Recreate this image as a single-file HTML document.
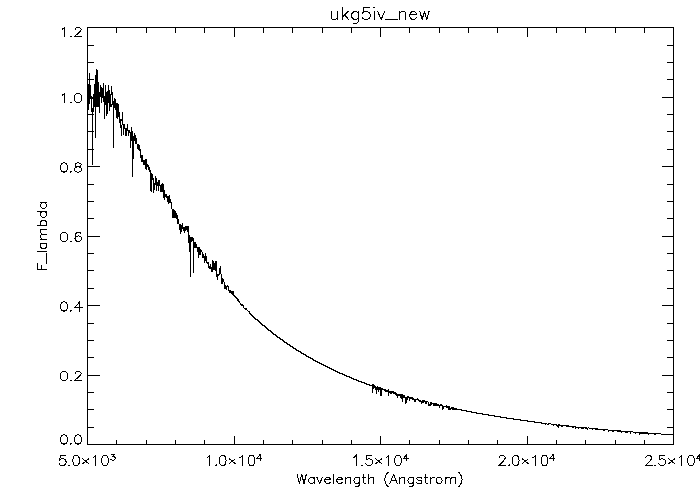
<!DOCTYPE html>
<html><head><meta charset="utf-8"><title>ukg5iv_new</title>
<style>html,body{margin:0;padding:0;background:#fff;width:700px;height:500px;overflow:hidden}svg{display:block}</style>
</head><body>
<svg width="700" height="500" viewBox="0 0 700 500">
<rect width="700" height="500" fill="#fff"/>
<g fill="none" stroke="#000" stroke-width="1" shape-rendering="crispEdges">
<rect x="87.5" y="27.5" width="586" height="417" fill="none"/>
<path d="M87.5 444.5V435.5M87.5 27.5V36.5M116.5 444.5V439.5M116.5 27.5V32.5M146.5 444.5V439.5M146.5 27.5V32.5M175.5 444.5V439.5M175.5 27.5V32.5M204.5 444.5V439.5M204.5 27.5V32.5M234.5 444.5V435.5M234.5 27.5V36.5M263.5 444.5V439.5M263.5 27.5V32.5M292.5 444.5V439.5M292.5 27.5V32.5M322.5 444.5V439.5M322.5 27.5V32.5M351.5 444.5V439.5M351.5 27.5V32.5M380.5 444.5V435.5M380.5 27.5V36.5M409.5 444.5V439.5M409.5 27.5V32.5M439.5 444.5V439.5M439.5 27.5V32.5M468.5 444.5V439.5M468.5 27.5V32.5M497.5 444.5V439.5M497.5 27.5V32.5M527.5 444.5V435.5M527.5 27.5V36.5M556.5 444.5V439.5M556.5 27.5V32.5M585.5 444.5V439.5M585.5 27.5V32.5M615.5 444.5V439.5M615.5 27.5V32.5M644.5 444.5V439.5M644.5 27.5V32.5M673.5 444.5V435.5M673.5 27.5V36.5M87.5 444.5H99.5M673.5 444.5H661.5M87.5 427.5H93.5M673.5 427.5H666.5M87.5 409.5H93.5M673.5 409.5H666.5M87.5 392.5H93.5M673.5 392.5H666.5M87.5 375.5H99.5M673.5 375.5H661.5M87.5 357.5H93.5M673.5 357.5H666.5M87.5 340.5H93.5M673.5 340.5H666.5M87.5 323.5H93.5M673.5 323.5H666.5M87.5 305.5H99.5M673.5 305.5H661.5M87.5 288.5H93.5M673.5 288.5H666.5M87.5 270.5H93.5M673.5 270.5H666.5M87.5 253.5H93.5M673.5 253.5H666.5M87.5 236.5H99.5M673.5 236.5H661.5M87.5 218.5H93.5M673.5 218.5H666.5M87.5 201.5H93.5M673.5 201.5H666.5M87.5 184.5H93.5M673.5 184.5H666.5M87.5 166.5H99.5M673.5 166.5H661.5M87.5 149.5H93.5M673.5 149.5H666.5M87.5 131.5H93.5M673.5 131.5H666.5M87.5 114.5H93.5M673.5 114.5H666.5M87.5 97.5H99.5M673.5 97.5H661.5M87.5 79.5H93.5M673.5 79.5H666.5M87.5 62.5H93.5M673.5 62.5H666.5M87.5 45.5H93.5M673.5 45.5H666.5M87.5 27.5H99.5M673.5 27.5H661.5"/>
</g>
<g fill="none" stroke="#000" stroke-width="1" stroke-linecap="square" stroke-linejoin="miter" shape-rendering="crispEdges">
<path d="M65.11 455.50L60.31 455.50L59.83 459.79L60.31 459.31L61.75 458.84L63.19 458.84L64.63 459.31L65.59 460.26L66.07 461.69L66.07 462.64L65.59 464.07L64.63 465.02L63.19 465.50L61.75 465.50L60.31 465.02L59.83 464.55L59.35 463.60M69.91 465.02L68.95 465.50M75.67 455.50L74.23 455.98L73.27 457.41L72.79 459.79L72.79 461.22L73.27 463.60L74.23 465.02L75.67 465.50L76.63 465.50L78.07 465.02L79.03 463.60L79.51 461.22L79.51 459.79L79.03 457.41L78.07 455.98L76.63 455.50L75.67 455.50M82.87 458.84L88.63 463.60M88.63 458.84L82.87 463.60M93.43 457.41L94.39 456.93L95.83 455.50L95.83 465.50M104.47 455.50L103.03 455.98L102.07 457.41L101.59 459.79L101.59 461.22L102.07 463.60L103.03 465.02L104.47 465.50L105.43 465.50L106.87 465.02L107.83 463.60L108.31 461.22L108.31 459.79L107.83 457.41L106.87 455.98L105.43 455.50L104.47 455.50M111.34 454.20L114.82 454.20L112.92 456.49L113.87 456.49L114.50 456.77L114.82 457.06L115.14 457.92L115.14 458.49L114.82 459.34L114.19 459.91L113.24 460.20L112.29 460.20L111.34 459.91L111.02 459.63L110.70 459.06M207.29 457.41L208.25 456.93L209.69 455.50L209.69 465.50M216.41 465.02L215.45 465.50M222.17 455.50L220.73 455.98L219.77 457.41L219.29 459.79L219.29 461.22L219.77 463.60L220.73 465.02L222.17 465.50L223.13 465.50L224.57 465.02L225.53 463.60L226.01 461.22L226.01 459.79L225.53 457.41L224.57 455.98L223.13 455.50L222.17 455.50M229.37 458.84L235.13 463.60M235.13 458.84L229.37 463.60M239.93 457.41L240.89 456.93L242.33 455.50L242.33 465.50M250.97 455.50L249.53 455.98L248.57 457.41L248.09 459.79L248.09 461.22L248.57 463.60L249.53 465.02L250.97 465.50L251.93 465.50L253.37 465.02L254.33 463.60L254.81 461.22L254.81 459.79L254.33 457.41L253.37 455.98L251.93 455.50L250.97 455.50M260.37 454.20L257.20 458.20L261.95 458.20M260.37 454.20L260.37 460.20M353.79 457.41L354.75 456.93L356.19 455.50L356.19 465.50M362.91 465.02L361.95 465.50M371.55 455.50L366.75 455.50L366.27 459.79L366.75 459.31L368.19 458.84L369.63 458.84L371.07 459.31L372.03 460.26L372.51 461.69L372.51 462.64L372.03 464.07L371.07 465.02L369.63 465.50L368.19 465.50L366.75 465.02L366.27 464.55L365.79 463.60M375.87 458.84L381.63 463.60M381.63 458.84L375.87 463.60M386.43 457.41L387.39 456.93L388.83 455.50L388.83 465.50M397.47 455.50L396.03 455.98L395.07 457.41L394.59 459.79L394.59 461.22L395.07 463.60L396.03 465.02L397.47 465.50L398.43 465.50L399.87 465.02L400.83 463.60L401.31 461.22L401.31 459.79L400.83 457.41L399.87 455.98L398.43 455.50L397.47 455.50M406.87 454.20L403.70 458.20L408.45 458.20M406.87 454.20L406.87 460.20M499.33 457.88L499.33 457.41L499.81 456.46L500.29 455.98L501.25 455.50L503.17 455.50L504.13 455.98L504.61 456.46L505.09 457.41L505.09 458.36L504.61 459.31L503.65 460.74L498.85 465.50L505.57 465.50M509.41 465.02L508.45 465.50M515.17 455.50L513.73 455.98L512.77 457.41L512.29 459.79L512.29 461.22L512.77 463.60L513.73 465.02L515.17 465.50L516.13 465.50L517.57 465.02L518.53 463.60L519.01 461.22L519.01 459.79L518.53 457.41L517.57 455.98L516.13 455.50L515.17 455.50M522.37 458.84L528.13 463.60M528.13 458.84L522.37 463.60M532.93 457.41L533.89 456.93L535.33 455.50L535.33 465.50M543.97 455.50L542.53 455.98L541.57 457.41L541.09 459.79L541.09 461.22L541.57 463.60L542.53 465.02L543.97 465.50L544.93 465.50L546.37 465.02L547.33 463.60L547.81 461.22L547.81 459.79L547.33 457.41L546.37 455.98L544.93 455.50L543.97 455.50M553.37 454.20L550.20 458.20L554.95 458.20M553.37 454.20L553.37 460.20M645.83 457.88L645.83 457.41L646.31 456.46L646.79 455.98L647.75 455.50L649.67 455.50L650.63 455.98L651.11 456.46L651.59 457.41L651.59 458.36L651.11 459.31L650.15 460.74L645.35 465.50L652.07 465.50M655.91 465.02L654.95 465.50M664.55 455.50L659.75 455.50L659.27 459.79L659.75 459.31L661.19 458.84L662.63 458.84L664.07 459.31L665.03 460.26L665.51 461.69L665.51 462.64L665.03 464.07L664.07 465.02L662.63 465.50L661.19 465.50L659.75 465.02L659.27 464.55L658.79 463.60M668.87 458.84L674.63 463.60M674.63 458.84L668.87 463.60M679.43 457.41L680.39 456.93L681.83 455.50L681.83 465.50M690.47 455.50L689.03 455.98L688.07 457.41L687.59 459.79L687.59 461.22L688.07 463.60L689.03 465.02L690.47 465.50L691.43 465.50L692.87 465.02L693.83 463.60L694.31 461.22L694.31 459.79L693.83 457.41L692.87 455.98L691.43 455.50L690.47 455.50M699.87 454.20L696.70 458.20L701.45 458.20M699.87 454.20L699.87 460.20M63.50 434.97L62.00 435.40L61.00 436.69L60.50 438.84L60.50 440.13L61.00 442.28L62.00 443.57L63.50 444.00L64.50 444.00L66.00 443.57L67.00 442.28L67.50 440.13L67.50 438.84L67.00 436.69L66.00 435.40L64.50 434.97L63.50 434.97M71.50 443.57L70.50 444.00M77.50 434.97L76.00 435.40L75.00 436.69L74.50 438.84L74.50 440.13L75.00 442.28L76.00 443.57L77.50 444.00L78.50 444.00L80.00 443.57L81.00 442.28L81.50 440.13L81.50 438.84L81.00 436.69L80.00 435.40L78.50 434.97L77.50 434.97M63.50 371.47L62.00 371.90L61.00 373.19L60.50 375.34L60.50 376.63L61.00 378.78L62.00 380.07L63.50 380.50L64.50 380.50L66.00 380.07L67.00 378.78L67.50 376.63L67.50 375.34L67.00 373.19L66.00 371.90L64.50 371.47L63.50 371.47M71.50 380.07L70.50 380.50M75.00 373.62L75.00 373.19L75.50 372.33L76.00 371.90L77.00 371.47L79.00 371.47L80.00 371.90L80.50 372.33L81.00 373.19L81.00 374.05L80.50 374.91L79.50 376.20L74.50 380.50L81.50 380.50M63.50 301.97L62.00 302.40L61.00 303.69L60.50 305.84L60.50 307.13L61.00 309.28L62.00 310.57L63.50 311.00L64.50 311.00L66.00 310.57L67.00 309.28L67.50 307.13L67.50 305.84L67.00 303.69L66.00 302.40L64.50 301.97L63.50 301.97M71.50 310.57L70.50 311.00M79.50 301.97L74.50 307.99L82.00 307.99M79.50 301.97L79.50 311.00M63.50 232.47L62.00 232.90L61.00 234.19L60.50 236.34L60.50 237.63L61.00 239.78L62.00 241.07L63.50 241.50L64.50 241.50L66.00 241.07L67.00 239.78L67.50 237.63L67.50 236.34L67.00 234.19L66.00 232.90L64.50 232.47L63.50 232.47M71.50 241.07L70.50 241.50M81.00 233.76L80.50 232.90L79.00 232.47L78.00 232.47L76.50 232.90L75.50 234.19L75.00 236.34L75.00 238.49L75.50 240.21L76.50 241.07L78.00 241.50L78.50 241.50L80.00 241.07L81.00 240.21L81.50 238.92L81.50 238.49L81.00 237.20L80.00 236.34L78.50 235.91L78.00 235.91L76.50 236.34L75.50 237.20L75.00 238.49M63.50 162.97L62.00 163.40L61.00 164.69L60.50 166.84L60.50 168.13L61.00 170.28L62.00 171.57L63.50 172.00L64.50 172.00L66.00 171.57L67.00 170.28L67.50 168.13L67.50 166.84L67.00 164.69L66.00 163.40L64.50 162.97L63.50 162.97M71.50 171.57L70.50 172.00M77.00 162.97L75.50 163.40L75.00 164.26L75.00 165.12L75.50 165.98L76.50 166.41L78.50 166.84L80.00 167.27L81.00 168.13L81.50 168.99L81.50 170.28L81.00 171.14L80.50 171.57L79.00 172.00L77.00 172.00L75.50 171.57L75.00 171.14L74.50 170.28L74.50 168.99L75.00 168.13L76.00 167.27L77.50 166.84L79.50 166.41L80.50 165.98L81.00 165.12L81.00 164.26L80.50 163.40L79.00 162.97L77.00 162.97M62.00 95.19L63.00 94.76L64.50 93.47L64.50 102.50M71.50 102.07L70.50 102.50M77.50 93.47L76.00 93.90L75.00 95.19L74.50 97.34L74.50 98.63L75.00 100.78L76.00 102.07L77.50 102.50L78.50 102.50L80.00 102.07L81.00 100.78L81.50 98.63L81.50 97.34L81.00 95.19L80.00 93.90L78.50 93.47L77.50 93.47M62.00 29.19L63.00 28.76L64.50 27.47L64.50 36.50M71.50 36.07L70.50 36.50M75.00 29.62L75.00 29.19L75.50 28.33L76.00 27.90L77.00 27.47L79.00 27.47L80.00 27.90L80.50 28.33L81.00 29.19L81.00 30.05L80.50 30.91L79.50 32.20L74.50 36.50L81.50 36.50M331.55 11.52L331.55 17.22L332.12 18.93L333.26 19.50L334.97 19.50L336.11 18.93L337.82 17.22M337.82 11.52L337.82 19.50M342.38 7.53L342.38 19.50M348.08 11.52L342.38 17.22M344.66 14.94L348.65 19.50M358.34 11.52L358.34 20.64L357.77 22.35L357.20 22.92L356.06 23.49L354.35 23.49L353.21 22.92M358.34 13.23L357.20 12.09L356.06 11.52L354.35 11.52L353.21 12.09L352.07 13.23L351.50 14.94L351.50 16.08L352.07 17.79L353.21 18.93L354.35 19.50L356.06 19.50L357.20 18.93L358.34 17.79M369.17 7.53L363.47 7.53L362.90 12.66L363.47 12.09L365.18 11.52L366.89 11.52L368.60 12.09L369.74 13.23L370.31 14.94L370.31 16.08L369.74 17.79L368.60 18.93L366.89 19.50L365.18 19.50L363.47 18.93L362.90 18.36L362.33 17.22M373.73 7.53L374.87 8.10M374.30 11.52L374.30 19.50M377.72 11.52L381.14 19.50M384.56 11.52L381.14 19.50M385.70 19.50L397.10 19.50M399.38 11.52L399.38 19.50M399.38 13.80L401.09 12.09L402.23 11.52L403.94 11.52L405.08 12.09L405.65 13.80L405.65 19.50M409.64 14.94L416.48 14.94L416.48 13.80L415.91 12.66L415.34 12.09L414.20 11.52L412.49 11.52L411.35 12.09L410.21 13.23L409.64 14.94L409.64 16.08L410.21 17.79L411.35 18.93L412.49 19.50L414.20 19.50L415.34 18.93L416.48 17.79M419.90 11.52L422.18 19.50M424.46 11.52L422.18 19.50M424.46 11.52L426.74 19.50M429.02 11.52L426.74 19.50M297.07 474.26L299.38 483.50M301.69 474.26L299.38 483.50M301.69 474.26L304.00 483.50M306.31 474.26L304.00 483.50M314.17 477.34L314.17 483.50M314.17 478.66L313.24 477.78L312.32 477.34L310.93 477.34L310.01 477.78L309.08 478.66L308.62 479.98L308.62 480.86L309.08 482.18L310.01 483.06L310.93 483.50L312.32 483.50L313.24 483.06L314.17 482.18M316.94 477.34L319.71 483.50M322.48 477.34L319.71 483.50M324.79 479.98L330.34 479.98L330.34 479.10L329.87 478.22L329.41 477.78L328.49 477.34L327.10 477.34L326.18 477.78L325.25 478.66L324.79 479.98L324.79 480.86L325.25 482.18L326.18 483.06L327.10 483.50L328.49 483.50L329.41 483.06L330.34 482.18M333.57 474.26L333.57 483.50M336.80 479.98L342.35 479.98L342.35 479.10L341.89 478.22L341.42 477.78L340.50 477.34L339.11 477.34L338.19 477.78L337.27 478.66L336.80 479.98L336.80 480.86L337.27 482.18L338.19 483.06L339.11 483.50L340.50 483.50L341.42 483.06L342.35 482.18M345.58 477.34L345.58 483.50M345.58 479.10L346.97 477.78L347.89 477.34L349.28 477.34L350.20 477.78L350.66 479.10L350.66 483.50M359.44 477.34L359.44 484.38L358.98 485.70L358.52 486.14L357.59 486.58L356.21 486.58L355.28 486.14M359.44 478.66L358.52 477.78L357.59 477.34L356.21 477.34L355.28 477.78L354.36 478.66L353.90 479.98L353.90 480.86L354.36 482.18L355.28 483.06L356.21 483.50L357.59 483.50L358.52 483.06L359.44 482.18M363.60 474.26L363.60 481.74L364.06 483.06L364.99 483.50L365.91 483.50M362.21 477.34L365.45 477.34M368.68 474.26L368.68 483.50M368.68 479.10L370.07 477.78L370.99 477.34L372.38 477.34L373.30 477.78L373.76 479.10L373.76 483.50M388.09 472.50L387.16 473.38L386.24 474.70L385.31 476.46L384.85 478.66L384.85 480.42L385.31 482.62L386.24 484.38L387.16 485.70L388.09 486.58M393.63 474.26L389.93 483.50M393.63 474.26L397.33 483.50M391.32 480.42L395.94 480.42M399.64 477.34L399.64 483.50M399.64 479.10L401.02 477.78L401.95 477.34L403.33 477.34L404.26 477.78L404.72 479.10L404.72 483.50M413.50 477.34L413.50 484.38L413.03 485.70L412.57 486.14L411.65 486.58L410.26 486.58L409.34 486.14M413.50 478.66L412.57 477.78L411.65 477.34L410.26 477.34L409.34 477.78L408.41 478.66L407.95 479.98L407.95 480.86L408.41 482.18L409.34 483.06L410.26 483.50L411.65 483.50L412.57 483.06L413.50 482.18M421.81 478.66L421.35 477.78L419.96 477.34L418.58 477.34L417.19 477.78L416.73 478.66L417.19 479.54L418.12 479.98L420.43 480.42L421.35 480.86L421.81 481.74L421.81 482.18L421.35 483.06L419.96 483.50L418.58 483.50L417.19 483.06L416.73 482.18M425.51 474.26L425.51 481.74L425.97 483.06L426.89 483.50L427.82 483.50M424.12 477.34L427.36 477.34M430.59 477.34L430.59 483.50M430.59 479.98L431.05 478.66L431.98 477.78L432.90 477.34L434.29 477.34M438.44 477.34L437.52 477.78L436.60 478.66L436.13 479.98L436.13 480.86L436.60 482.18L437.52 483.06L438.44 483.50L439.83 483.50L440.75 483.06L441.68 482.18L442.14 480.86L442.14 479.98L441.68 478.66L440.75 477.78L439.83 477.34L438.44 477.34M445.37 477.34L445.37 483.50M445.37 479.10L446.76 477.78L447.68 477.34L449.07 477.34L449.99 477.78L450.46 479.10L450.46 483.50M450.46 479.10L451.84 477.78L452.77 477.34L454.15 477.34L455.08 477.78L455.54 479.10L455.54 483.50M458.77 472.50L459.70 473.38L460.62 474.70L461.54 476.46L462.01 478.66L462.01 480.42L461.54 482.62L460.62 484.38L459.70 485.70L458.77 486.58"/>
<path d="M37.47 269.51L46.50 269.51M37.47 269.51L37.47 263.51M41.77 269.51L41.77 265.82M46.50 263.05L46.50 253.81M37.47 251.96L46.50 251.96M40.48 243.18L46.50 243.18M41.77 243.18L40.91 244.10L40.48 245.03L40.48 246.41L40.91 247.34L41.77 248.26L43.06 248.72L43.92 248.72L45.21 248.26L46.07 247.34L46.50 246.41L46.50 245.03L46.07 244.10L45.21 243.18M40.48 239.48L46.50 239.48M42.20 239.48L40.91 238.10L40.48 237.17L40.48 235.79L40.91 234.86L42.20 234.40L46.50 234.40M42.20 234.40L40.91 233.02L40.48 232.09L40.48 230.71L40.91 229.78L42.20 229.32L46.50 229.32M37.47 225.62L46.50 225.62M41.77 225.62L40.91 224.70L40.48 223.78L40.48 222.39L40.91 221.47L41.77 220.54L43.06 220.08L43.92 220.08L45.21 220.54L46.07 221.47L46.50 222.39L46.50 223.78L46.07 224.70L45.21 225.62M37.47 211.76L46.50 211.76M41.77 211.76L40.91 212.69L40.48 213.61L40.48 215.00L40.91 215.92L41.77 216.85L43.06 217.31L43.92 217.31L45.21 216.85L46.07 215.92L46.50 215.00L46.50 213.61L46.07 212.69L45.21 211.76M40.48 202.99L46.50 202.99M41.77 202.99L40.91 203.91L40.48 204.83L40.48 206.22L40.91 207.14L41.77 208.07L43.06 208.53L43.92 208.53L45.21 208.07L46.07 207.14L46.50 206.22L46.50 204.83L46.07 203.91L45.21 202.99"/>
</g>
<path d="M88 84h1V110h-1ZM89 73h1V104h-1ZM90 85h1V99h-1ZM91 96h1V112h-1ZM92 97h1V99h-1ZM93 94h1V112h-1ZM94 84h1V107h-1ZM95 75h1V138h-1ZM96 69h1V107h-1ZM97 70h1V107h-1ZM98 82h1V107h-1ZM99 92h1V113h-1ZM100 85h1V97h-1ZM101 87h1V103h-1ZM102 88h1V98h-1ZM103 83h1V102h-1ZM104 96h1V119h-1ZM105 85h1V105h-1ZM106 92h1V116h-1ZM107 91h1V114h-1ZM108 85h1V103h-1ZM109 90h1V111h-1ZM110 94h1V107h-1ZM111 86h1V95h-1ZM112 92h1V105h-1ZM113 101h1V148h-1ZM114 98h1V108h-1ZM115 99h1V110h-1ZM116 103h1V118h-1ZM117 103h1V119h-1ZM118 104h1V117h-1ZM119 112h1V123h-1ZM120 119h1V128h-1ZM121 119h1V121h-1ZM122 112h1V125h-1ZM123 124h1V135h-1ZM124 124h1V129h-1ZM125 128h1V136h-1ZM126 128h1V136h-1ZM127 124h1V131h-1ZM128 130h1V136h-1ZM129 130h1V133h-1ZM130 132h1V148h-1ZM131 127h1V141h-1ZM132 131h1V177h-1ZM133 136h1V159h-1ZM134 133h1V141h-1ZM135 135h1V144h-1ZM136 138h1V144h-1ZM137 144h1V149h-1ZM138 144h1V150h-1ZM139 145h1V151h-1ZM140 149h1V158h-1ZM141 155h1V162h-1ZM142 155h1V162h-1ZM143 160h1V165h-1ZM144 160h1V165h-1ZM145 159h1V169h-1ZM146 159h1V170h-1ZM147 164h1V167h-1ZM148 165h1V170h-1ZM149 167h1V172h-1ZM150 170h1V191h-1ZM151 173h1V192h-1ZM152 174h1V180h-1ZM153 178h1V193h-1ZM154 183h1V190h-1ZM155 176h1V185h-1ZM156 178h1V191h-1ZM157 182h1V186h-1ZM158 180h1V191h-1ZM159 180h1V186h-1ZM160 185h1V192h-1ZM161 184h1V192h-1ZM162 183h1V192h-1ZM163 184h1V198h-1ZM164 190h1V200h-1ZM165 194h1V197h-1ZM166 194h1V198h-1ZM167 196h1V202h-1ZM168 196h1V204h-1ZM169 195h1V203h-1ZM170 199h1V203h-1ZM171 202h1V209h-1ZM172 209h1V218h-1ZM173 209h1V218h-1ZM174 210h1V218h-1ZM175 211h1V218h-1ZM176 213h1V219h-1ZM177 215h1V224h-1ZM178 219h1V224h-1ZM179 224h1V230h-1ZM180 224h1V234h-1ZM181 225h1V232h-1ZM182 223h1V229h-1ZM183 227h1V231h-1ZM184 227h1V233h-1ZM185 226h1V231h-1ZM186 226h1V230h-1ZM187 226h1V232h-1ZM188 226h1V243h-1ZM189 235h1V252h-1ZM190 237h1V277h-1ZM191 237h1V242h-1ZM192 237h1V241h-1ZM193 238h1V273h-1ZM194 242h1V248h-1ZM195 242h1V248h-1ZM196 244h1V248h-1ZM197 247h1V252h-1ZM198 247h1V258h-1ZM199 247h1V255h-1ZM200 249h1V255h-1ZM201 250h1V252h-1ZM202 252h1V258h-1ZM203 254h1V258h-1ZM204 256h1V263h-1ZM205 253h1V261h-1ZM206 256h1V263h-1ZM207 262h1V264h-1ZM208 262h1V268h-1ZM209 266h1V269h-1ZM210 264h1V269h-1ZM211 267h1V272h-1ZM212 260h1V272h-1ZM213 261h1V270h-1ZM214 263h1V270h-1ZM215 261h1V271h-1ZM216 261h1V277h-1ZM217 274h1V280h-1ZM218 274h1V276h-1ZM219 268h1V275h-1ZM220 266h1V274h-1ZM221 274h1V284h-1ZM222 278h1V284h-1ZM223 279h1V282h-1ZM224 282h1V289h-1ZM225 285h1V289h-1ZM226 286h1V290h-1ZM227 285h1V287h-1ZM228 286h1V291h-1ZM229 290h1V293h-1ZM230 290h1V293h-1ZM231 291h1V294h-1ZM232 291h1V295h-1ZM233 291h1V296h-1ZM234 295h1V297h-1ZM235 296h1V298h-1ZM236 297h1V299h-1ZM237 298h1V301h-1ZM238 299h1V302h-1ZM239 301h1V303h-1ZM240 303h1V305h-1ZM241 304h1V306h-1ZM242 304h1V306h-1ZM243 305h1V308h-1ZM244 308h1V309h-1ZM245 308h1V310h-1ZM246 308h1V310h-1ZM247 310h1V311h-1ZM248 311h1V312h-1ZM249 311h1V314h-1ZM250 313h1V315h-1ZM251 314h1V316h-1ZM252 315h1V317h-1ZM253 316h1V318h-1ZM254 317h1V319h-1ZM255 318h1V320h-1ZM256 319h1V320h-1ZM257 319h1V321h-1ZM258 320h1V322h-1ZM259 321h1V323h-1ZM260 322h1V324h-1ZM261 323h1V325h-1ZM262 324h1V326h-1ZM263 325h1V326h-1ZM264 325h1V327h-1ZM265 326h1V328h-1ZM266 327h1V329h-1ZM267 328h1V330h-1ZM268 329h1V331h-1ZM269 330h1V331h-1ZM270 330h1V332h-1ZM271 331h1V333h-1ZM272 332h1V334h-1ZM273 333h1V335h-1ZM274 334h1V335h-1ZM275 334h1V336h-1ZM276 335h1V337h-1ZM277 336h1V338h-1ZM278 337h1V338h-1ZM279 337h1V339h-1ZM280 338h1V340h-1ZM281 339h1V340h-1ZM282 339h1V341h-1ZM283 340h1V342h-1ZM284 341h1V343h-1ZM285 342h1V343h-1ZM286 342h1V344h-1ZM287 343h1V345h-1ZM288 344h1V345h-1ZM289 344h1V346h-1ZM290 345h1V347h-1ZM291 346h1V347h-1ZM292 346h1V348h-1ZM293 347h1V349h-1ZM294 348h1V349h-1ZM295 348h1V350h-1ZM296 349h1V351h-1ZM297 350h1V351h-1ZM298 350h1V352h-1ZM299 351h1V352h-1ZM300 351h1V353h-1ZM301 352h1V354h-1ZM302 353h1V354h-1ZM303 353h1V355h-1ZM304 354h1V355h-1ZM305 354h1V356h-1ZM306 355h1V357h-1ZM307 356h1V357h-1ZM308 356h1V358h-1ZM309 357h1V358h-1ZM310 357h1V359h-1ZM311 358h1V359h-1ZM312 358h1V360h-1ZM313 359h1V361h-1ZM314 360h1V361h-1ZM315 360h1V362h-1ZM316 361h1V362h-1ZM317 361h1V363h-1ZM318 362h1V363h-1ZM319 362h1V364h-1ZM320 363h1V364h-1ZM321 363h1V365h-1ZM322 364h1V365h-1ZM323 364h1V366h-1ZM324 365h1V366h-1ZM325 365h1V367h-1ZM326 366h1V367h-1ZM327 366h1V368h-1ZM328 367h1V368h-1ZM329 367h1V369h-1ZM330 368h1V369h-1ZM331 368h1V370h-1ZM332 369h1V370h-1ZM333 369h1V371h-1ZM334 370h1V371h-1ZM335 370h1V372h-1ZM336 371h1V372h-1ZM337 371h1V373h-1ZM338 372h1V373h-1ZM339 372h1V374h-1ZM340 373h1V374h-1ZM341 373h1V374h-1ZM342 373h1V375h-1ZM343 374h1V375h-1ZM344 374h1V376h-1ZM345 375h1V376h-1ZM346 375h1V377h-1ZM347 376h1V377h-1ZM348 376h1V377h-1ZM349 376h1V378h-1ZM350 377h1V378h-1ZM351 377h1V379h-1ZM352 378h1V379h-1ZM353 378h1V380h-1ZM354 379h1V380h-1ZM355 379h1V380h-1ZM356 379h1V381h-1ZM357 380h1V381h-1ZM358 380h1V382h-1ZM359 381h1V382h-1ZM360 381h1V382h-1ZM361 381h1V383h-1ZM362 382h1V383h-1ZM363 382h1V383h-1ZM364 382h1V384h-1ZM365 383h1V384h-1ZM366 383h1V385h-1ZM367 384h1V385h-1ZM368 384h1V385h-1ZM369 384h1V386h-1ZM370 385h1V386h-1ZM371 385h1V386h-1ZM372 384h1V393h-1ZM373 384h1V389h-1ZM374 385h1V388h-1ZM375 386h1V390h-1ZM376 387h1V394h-1ZM377 386h1V390h-1ZM378 387h1V392h-1ZM379 387h1V390h-1ZM380 387h1V396h-1ZM381 388h1V396h-1ZM382 388h1V390h-1ZM383 389h1V390h-1ZM384 389h1V391h-1ZM385 389h1V392h-1ZM386 390h1V392h-1ZM387 390h1V392h-1ZM388 389h1V396h-1ZM389 391h1V393h-1ZM390 391h1V394h-1ZM391 391h1V394h-1ZM392 391h1V393h-1ZM393 391h1V394h-1ZM394 392h1V394h-1ZM395 392h1V395h-1ZM396 393h1V396h-1ZM397 394h1V398h-1ZM398 394h1V396h-1ZM399 394h1V396h-1ZM400 394h1V398h-1ZM401 394h1V399h-1ZM402 394h1V402h-1ZM403 395h1V398h-1ZM404 395h1V398h-1ZM405 397h1V404h-1ZM406 397h1V403h-1ZM407 396h1V400h-1ZM408 396h1V398h-1ZM409 397h1V401h-1ZM410 397h1V399h-1ZM411 397h1V399h-1ZM412 397h1V400h-1ZM413 398h1V400h-1ZM414 399h1V402h-1ZM415 399h1V402h-1ZM416 399h1V400h-1ZM417 398h1V400h-1ZM418 399h1V401h-1ZM419 400h1V402h-1ZM420 400h1V402h-1ZM421 401h1V404h-1ZM422 400h1V403h-1ZM423 400h1V403h-1ZM424 400h1V402h-1ZM425 401h1V404h-1ZM426 401h1V404h-1ZM427 401h1V402h-1ZM428 402h1V406h-1ZM429 404h1V406h-1ZM430 402h1V406h-1ZM431 402h1V405h-1ZM432 403h1V404h-1ZM433 403h1V406h-1ZM434 403h1V406h-1ZM435 403h1V406h-1ZM436 403h1V406h-1ZM437 404h1V406h-1ZM438 404h1V406h-1ZM439 405h1V408h-1ZM440 404h1V406h-1ZM441 404h1V406h-1ZM442 405h1V410h-1ZM443 406h1V409h-1ZM444 406h1V407h-1ZM445 406h1V407h-1ZM446 405h1V408h-1ZM447 406h1V408h-1ZM448 406h1V410h-1ZM449 406h1V410h-1ZM450 408h1V410h-1ZM451 407h1V409h-1ZM452 407h1V410h-1ZM453 407h1V410h-1ZM454 408h1V410h-1ZM455 408h1V410h-1ZM456 408h1V410h-1ZM457 409h1V410h-1ZM458 409h1V410h-1ZM459 409h1V410h-1ZM460 409h1V410h-1ZM461 409h1V411h-1ZM462 410h1V411h-1ZM463 410h1V411h-1ZM464 410h1V411h-1ZM465 410h1V411h-1ZM466 410h1V412h-1ZM467 411h1V412h-1ZM468 411h1V412h-1ZM469 411h1V412h-1ZM470 411h1V412h-1ZM471 411h1V413h-1ZM472 412h1V413h-1ZM473 412h1V413h-1ZM474 412h1V413h-1ZM475 412h1V413h-1ZM476 412h1V414h-1ZM477 413h1V414h-1ZM478 413h1V414h-1ZM479 413h1V414h-1ZM480 413h1V414h-1ZM481 413h1V414h-1ZM482 413h1V415h-1ZM483 414h1V415h-1ZM484 414h1V415h-1ZM485 414h1V415h-1ZM486 414h1V415h-1ZM487 414h1V415h-1ZM488 414h1V416h-1ZM489 415h1V416h-1ZM490 415h1V416h-1ZM491 415h1V416h-1ZM492 415h1V416h-1ZM493 415h1V416h-1ZM494 415h1V417h-1ZM495 416h1V417h-1ZM496 416h1V417h-1ZM497 416h1V417h-1ZM498 416h1V417h-1ZM499 416h1V417h-1ZM500 416h1V418h-1ZM501 417h1V418h-1ZM502 417h1V418h-1ZM503 417h1V418h-1ZM504 417h1V418h-1ZM505 417h1V418h-1ZM506 417h1V419h-1ZM507 418h1V419h-1ZM508 418h1V419h-1ZM509 418h1V419h-1ZM510 418h1V419h-1ZM511 418h1V419h-1ZM512 418h1V419h-1ZM513 418h1V420h-1ZM514 419h1V420h-1ZM515 419h1V420h-1ZM516 419h1V420h-1ZM517 419h1V420h-1ZM518 419h1V420h-1ZM519 419h1V420h-1ZM520 419h1V421h-1ZM521 420h1V421h-1ZM522 420h1V421h-1ZM523 420h1V421h-1ZM524 420h1V421h-1ZM525 420h1V421h-1ZM526 420h1V421h-1ZM527 420h1V422h-1ZM528 421h1V422h-1ZM529 421h1V422h-1ZM530 421h1V422h-1ZM531 421h1V422h-1ZM532 421h1V422h-1ZM533 421h1V422h-1ZM534 421h1V423h-1ZM535 422h1V423h-1ZM536 422h1V423h-1ZM537 422h1V423h-1ZM538 422h1V423h-1ZM539 422h1V423h-1ZM540 422h1V423h-1ZM541 422h1V424h-1ZM542 423h1V424h-1ZM543 423h1V424h-1ZM544 423h1V424h-1ZM545 423h1V425h-1ZM546 423h1V424h-1ZM547 424h1V425h-1ZM548 423h1V425h-1ZM549 423h1V424h-1ZM550 423h1V424h-1ZM551 424h1V425h-1ZM552 424h1V425h-1ZM553 424h1V426h-1ZM554 424h1V425h-1ZM555 424h1V425h-1ZM556 424h1V426h-1ZM557 425h1V427h-1ZM558 424h1V428h-1ZM559 424h1V426h-1ZM560 425h1V426h-1ZM561 425h1V427h-1ZM562 425h1V427h-1ZM563 425h1V426h-1ZM564 425h1V426h-1ZM565 425h1V426h-1ZM566 425h1V427h-1ZM567 425h1V427h-1ZM568 425h1V427h-1ZM569 426h1V427h-1ZM570 426h1V427h-1ZM571 426h1V427h-1ZM572 426h1V428h-1ZM573 426h1V428h-1ZM574 426h1V427h-1ZM575 426h1V429h-1ZM576 427h1V428h-1ZM577 427h1V428h-1ZM578 427h1V429h-1ZM579 427h1V428h-1ZM580 427h1V428h-1ZM581 427h1V429h-1ZM582 427h1V429h-1ZM583 427h1V429h-1ZM584 427h1V428h-1ZM585 427h1V429h-1ZM586 427h1V429h-1ZM587 428h1V430h-1ZM588 427h1V428h-1ZM589 428h1V429h-1ZM590 428h1V429h-1ZM591 428h1V429h-1ZM592 428h1V430h-1ZM593 428h1V429h-1ZM594 428h1V429h-1ZM595 428h1V430h-1ZM596 428h1V430h-1ZM597 428h1V430h-1ZM598 429h1V430h-1ZM599 429h1V430h-1ZM600 429h1V430h-1ZM601 429h1V430h-1ZM602 429h1V430h-1ZM603 429h1V431h-1ZM604 429h1V431h-1ZM605 429h1V430h-1ZM606 429h1V430h-1ZM607 429h1V430h-1ZM608 430h1V432h-1ZM609 430h1V431h-1ZM610 430h1V431h-1ZM611 430h1V431h-1ZM612 430h1V432h-1ZM613 430h1V432h-1ZM614 430h1V431h-1ZM615 430h1V431h-1ZM616 430h1V431h-1ZM617 430h1V432h-1ZM618 430h1V432h-1ZM619 430h1V432h-1ZM620 430h1V432h-1ZM621 431h1V433h-1ZM622 431h1V432h-1ZM623 431h1V432h-1ZM624 431h1V432h-1ZM625 431h1V433h-1ZM626 431h1V433h-1ZM627 431h1V433h-1ZM628 431h1V432h-1ZM629 431h1V432h-1ZM630 431h1V434h-1ZM631 431h1V432h-1ZM632 431h1V432h-1ZM633 432h1V433h-1ZM634 432h1V433h-1ZM635 432h1V434h-1ZM636 432h1V433h-1ZM637 432h1V433h-1ZM638 432h1V433h-1ZM639 432h1V435h-1ZM640 432h1V434h-1ZM641 432h1V434h-1ZM642 432h1V434h-1ZM643 432h1V434h-1ZM644 432h1V434h-1ZM645 432h1V434h-1ZM646 432h1V434h-1ZM647 432h1V434h-1ZM648 433h1V435h-1ZM649 433h1V434h-1ZM650 433h1V434h-1ZM651 433h1V434h-1ZM652 433h1V434h-1ZM653 433h1V434h-1ZM654 433h1V435h-1ZM655 433h1V435h-1ZM656 433h1V434h-1ZM657 433h1V434h-1ZM658 433h1V434h-1ZM659 433h1V434h-1ZM660 433h1V434h-1ZM661 434h1V435h-1ZM662 434h1V435h-1ZM663 434h1V435h-1ZM664 434h1V435h-1ZM665 434h1V435h-1ZM666 434h1V435h-1ZM667 434h1V435h-1ZM668 434h1V435h-1ZM669 434h1V435h-1ZM670 434h1V435h-1ZM671 434h1V435h-1ZM672 434h1V435h-1ZM111 104h1V107h-1ZM121 125h1V136h-1ZM92 108h1V165h-1Z" fill="#000" shape-rendering="crispEdges"/>
</svg>
</body></html>
